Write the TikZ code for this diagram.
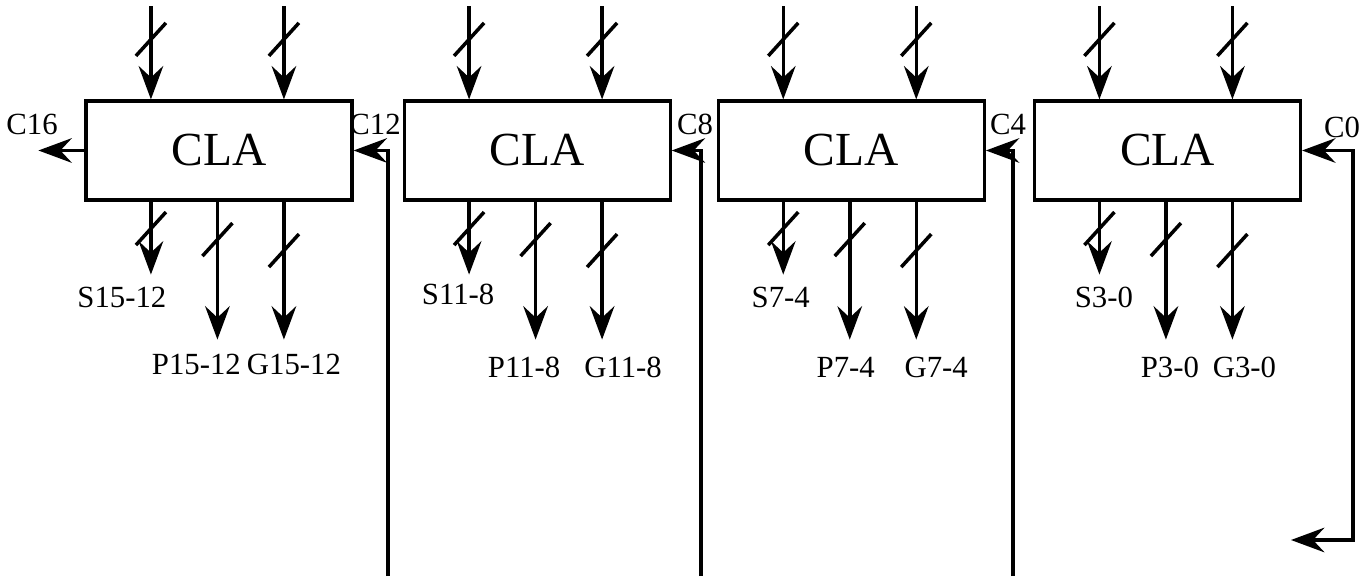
\documentclass[tikz,border=0pt]{standalone}
\usepackage{fontspec}
\setmainfont{Liberation Serif}
\usetikzlibrary{positioning,arrows.meta,calc,decorations.markings}

\begin{document}
\begin{tikzpicture}[
    cla/.style={
        draw,
        line width=1.8pt,
        minimum width=5.32cm,
        minimum height=1.98cm,
        font=\fontsize{27}{32}\selectfont,
        fill=white
    },
    lbl/.style={font=\fontsize{17.5}{21}\selectfont},
    wire/.style={line width=2pt},
    busmark/.style={postaction={decorate,decoration={markings,
        mark=at position #1 with {\draw[-,line width=2pt] (-0.33cm,0.3cm) -- (0.33cm,-0.3cm);}}}},
    >={Stealth[length=19pt,width=14pt,inset=6.5pt]}
]
\useasboundingbox (0,0) rectangle (27.4,11.52);

\node[cla] (cla1) at (4.38,8.51) {CLA};
\node[cla, right=0.98cm of cla1] (cla2) {CLA};
\node[cla, right=0.9cm of cla2] (cla3) {CLA};
\node[cla, right=0.94cm of cla3] (cla4) {CLA};

% operand inputs and S, P, G outputs of each block
\foreach \i in {1,...,4}{
    \coordinate (a\i) at ($(cla\i.north west)+(1.33,1.86)$);
    \coordinate (b\i) at ($(cla\i.north west)+(3.99,1.86)$);
    \coordinate (s\i) at ($(cla\i.south west)+(1.33,-1.46)$);
    \coordinate (p\i) at ($(cla\i.south west)+(2.66,-2.76)$);
    \coordinate (g\i) at ($(cla\i.south west)+(3.99,-2.76)$);
    \draw[wire,->,busmark=0.66cm] (a\i) -- (a\i |- cla\i.north);
    \draw[wire,->,busmark=0.66cm] (b\i) -- (b\i |- cla\i.north);
    \draw[wire,->,busmark=0.54cm] (s\i |- cla\i.south) -- (s\i);
    \draw[wire,->,busmark=0.76cm] (p\i |- cla\i.south) -- (p\i);
    \draw[wire,->,busmark=0.98cm] (g\i |- cla\i.south) -- (g\i);
}

\node[lbl] (s1l) at ($(s1)+(-0.58,-0.46)$) {S15-12};
\node[lbl] (p1l) at ($(p1)+(-0.42,-0.50)$) {P15-12};
\node[lbl] (g1l) at ($(g1)+(0.20,-0.50)$) {G15-12};
\node[lbl] (s2l) at ($(s2)+(-0.22,-0.39)$) {S11-8};
\node[lbl] (p2l) at ($(p2)+(-0.23,-0.56)$) {P11-8};
\node[lbl] (g2l) at ($(g2)+(0.42,-0.56)$) {G11-8};
\node[lbl] (s3l) at ($(s3)+(-0.05,-0.45)$) {S7-4};
\node[lbl] (p3l) at ($(p3)+(-0.08,-0.56)$) {P7-4};
\node[lbl] (g3l) at ($(g3)+(0.40,-0.56)$) {G7-4};
\node[lbl] (s4l) at ($(s4)+(0.09,-0.45)$) {S3-0};
\node[lbl] (p4l) at ($(p4)+(0.08,-0.56)$) {P3-0};
\node[lbl] (g4l) at ($(g4)+(0.24,-0.56)$) {G3-0};

% carry chain
\coordinate (c16) at ($(cla1.west)+(-0.92,0)$);
\coordinate (c12) at (7.76,0);
\coordinate (c8) at (14.02,0);
\coordinate (c4) at (20.26,0);
\coordinate (c0) at (25.82,0.72);
\draw[wire,->] (cla1.west) -- (c16);
\draw[wire,->] (c12) |- (cla1.east);
\draw[wire,->] (c8) |- (cla2.east);
\draw[wire,->] (c4) |- (cla3.east);
\draw[wire,<->] (cla4.east) -- ++(1.02,0) |- (c0);

\node[lbl] (c16l) at (0.64,9.04) {C16};
\node[lbl] (c12l) at (7.50,9.04) {C12};
\node[lbl] (c8l) at (13.90,9.04) {C8};
\node[lbl] (c4l) at (20.16,9.04) {C4};
\node[lbl] (c0l) at (26.84,8.98) {C0};

\end{tikzpicture}
\end{document}
